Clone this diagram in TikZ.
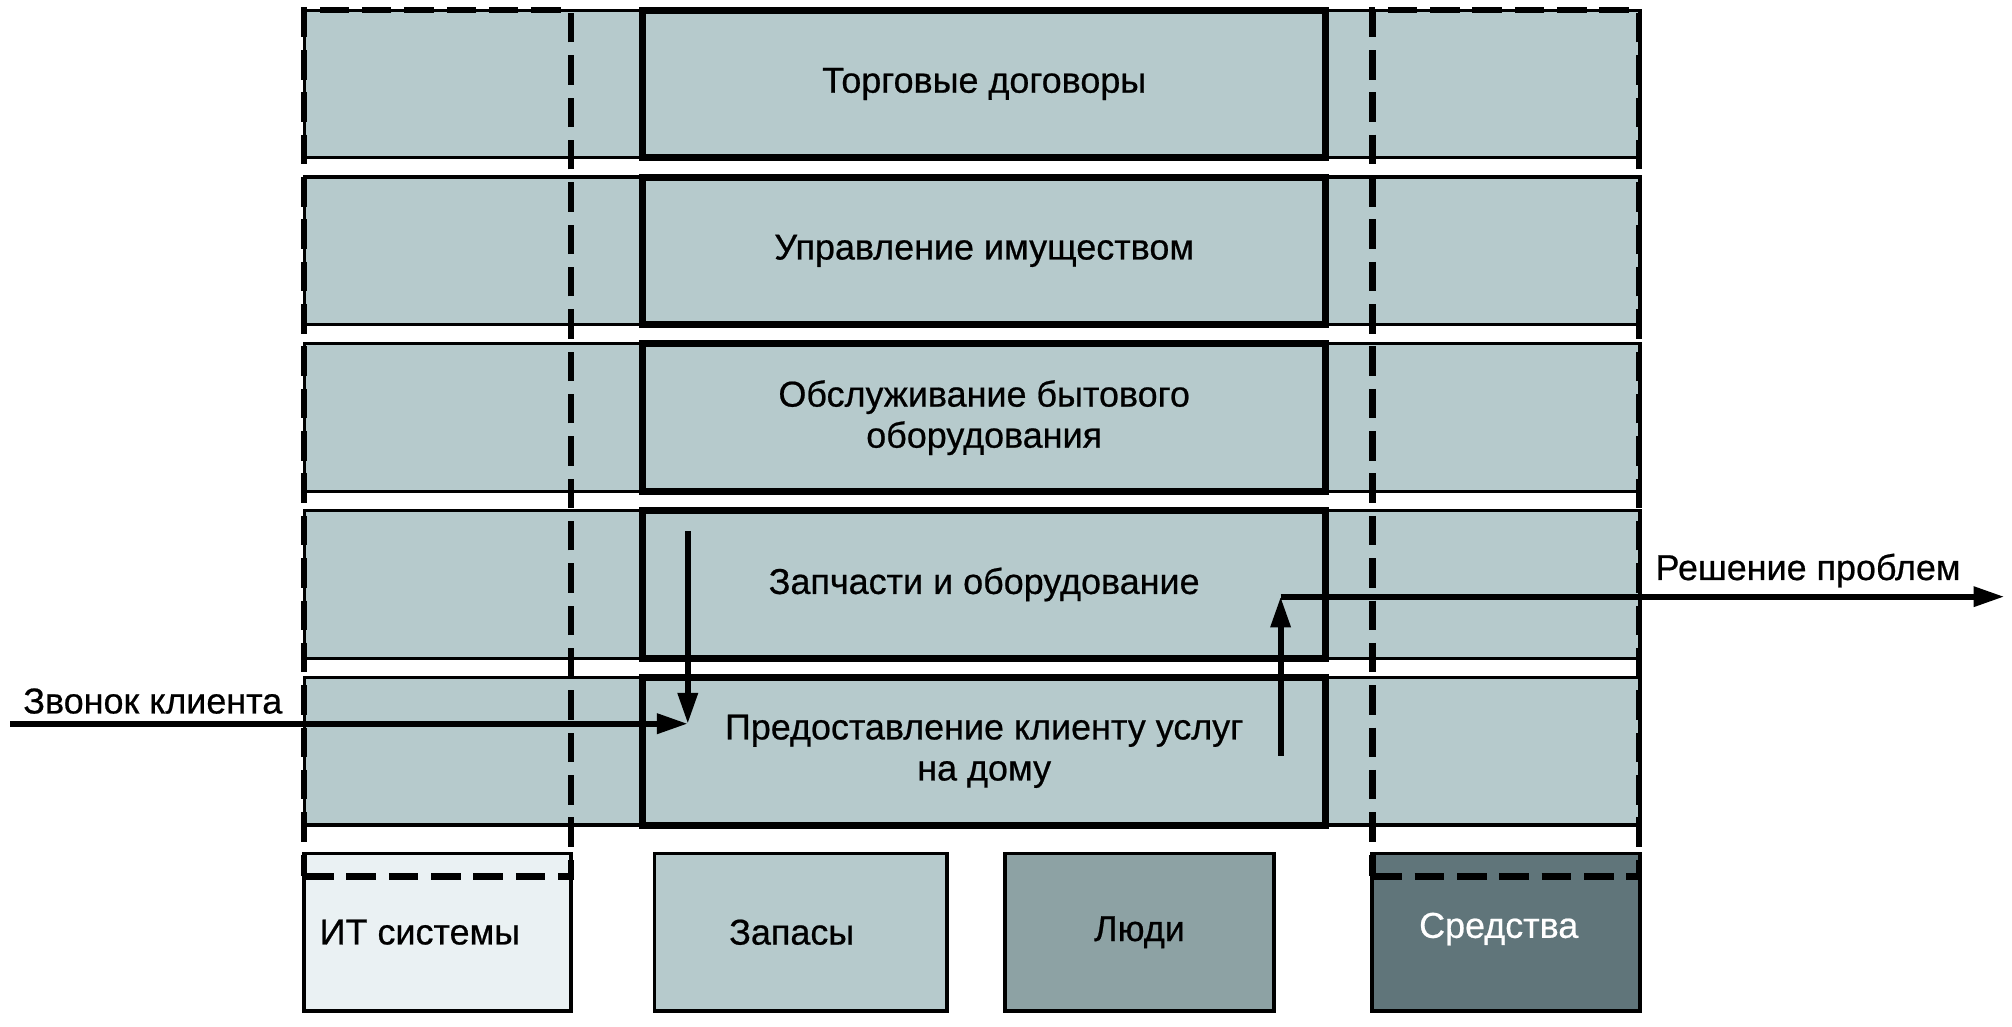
\documentclass[tikz,border=0pt]{standalone}
\usepackage{fontspec}
\setmainfont{Liberation Sans}
\newfontfamily\lblfont{Liberation Sans}[FakeBold=0.6]
\usetikzlibrary{arrows.meta}
\definecolor{bandcol}{RGB}{182,202,204}
\definecolor{itcol}{RGB}{234,241,243}
\definecolor{peoplecol}{RGB}{141,162,164}
\definecolor{fundcol}{RGB}{96,117,122}
\tikzset{
  txt/.style={font=\lblfont\fontsize{28}{32}\selectfont},
  band/.style={draw=black, line width=2.5, fill=bandcol, minimum width=1041, minimum height=115, inner sep=0},
  proc/.style={draw=black, line width=5.5, fill=bandcol, minimum width=532, minimum height=115, inner sep=0, align=center, txt},
  res/.style={draw=black, line width=2.8, minimum height=123, inner sep=0, txt},
  colbox/.style={draw=black, line width=5, dash pattern=on 23 off 10, minimum width=208, minimum height=675, inner sep=0},
  flow/.style={line width=4.5, -{Triangle[length=24, width=15]}},
  lbl/.style={inner sep=0, txt}
}
\begin{document}
\begin{tikzpicture}[x=1pt, y=-1pt]
\useasboundingbox (0,0) rectangle (1568,800);
% row bands
\foreach \i in {0,...,4} {
  \node[band] (band\i) at (757.5, 65.5+130*\i) {};
}
% process boxes
\node[proc] (p1) at (767, 65.5) {Торговые договоры};
\node[proc] (p2) at (767, 195.5) {Управление имуществом};
\node[proc] (p3) at (767, 325.5) {Обслуживание бытового\\оборудования};
\node[proc] (p4) at (767, 455.5) {Запчасти и оборудование};
\node[proc] (p5) at (767, 585.5) {Предоставление клиенту услуг\\на дому};
% resource boxes
\node[res, fill=itcol, minimum width=208] (it) at (341, 726.5) {};
\node[lbl, anchor=west] (itlbl) at (249, 726.5) {ИТ системы};
\node[res, fill=bandcol, minimum width=228] (stock) at (624, 726.5) {};
\node[lbl] (stocklbl) at (617, 726.5) {Запасы};
\node[res, fill=peoplecol, minimum width=210] (people) at (888, 726.5) {Люди};
\node[res, fill=fundcol, minimum width=209, text=white] (funds) at (1173.5, 726.5) {};
\node[lbl, text=white] (fundslbl) at (1168, 724) {Средства};
% dashed columns
\node[colbox] (itcol) at (341, 345.5) {};
\node[colbox] (fundcolbox) at (1173.5, 345.5) {};
% flows
\coordinate (callin) at (8,564);
\coordinate (meet) at (536,564);
\coordinate (dstart) at (536,414);
\coordinate (ustart) at (998,589);
\coordinate (corner) at (998,465);
\coordinate (outend) at (1562,465);
\draw[flow] (callin) -- (meet);
\draw[flow] (dstart) -- (meet);
\draw[flow] (ustart) -- (corner);
\draw[flow] (corner) -- (outend);
\node[lbl, anchor=base west] (calllbl) at (18,556) {Звонок клиента};
\node[lbl, anchor=base west] (outlbl) at (1290,452) {Решение проблем};
\end{tikzpicture}
\end{document}
